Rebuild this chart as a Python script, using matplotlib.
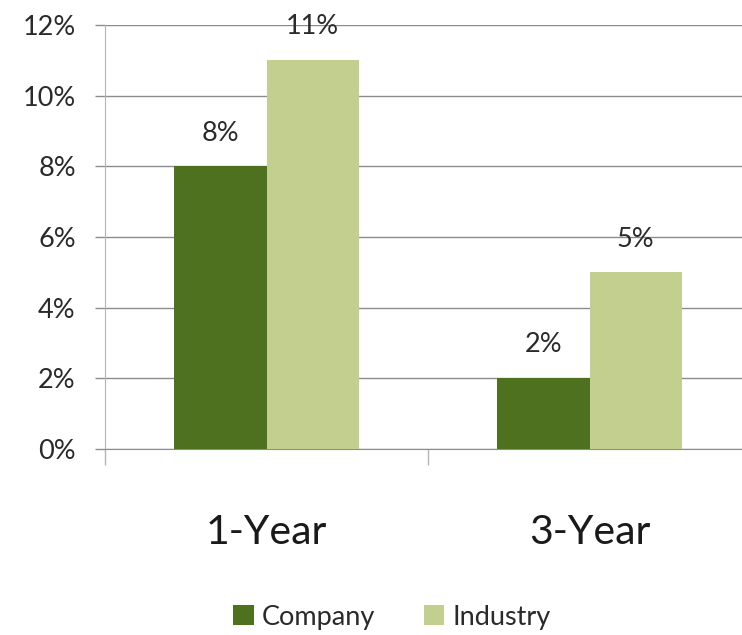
import matplotlib
matplotlib.use("Agg")
import matplotlib.pyplot as plt
import numpy as np

categories = ["1-Year", "3-Year"]
series_names = ["Company", "Industry"]
company = [8, 2]
industry = [11, 5]
y_ticks = [0, 2, 4, 6, 8, 10, 12]

dark_green = "#4E7120"
light_green = "#C3CF8F"
grid_gray = "#8C8C8C"
axis_gray = "#B5B5B5"
text_color = "#2a2a2a"

plt.rcParams["font.family"] = ["Lato", "DejaVu Sans"]

W, H = 742, 635
fig = plt.figure(figsize=(W / 100, H / 100), dpi=100)
ax = fig.add_axes([105 / W, 186 / H, 646 / W, 424 / H])

x = np.arange(len(categories))
bw = 0.285
bars_c = ax.bar(x - bw / 2, company, bw, color=dark_green, label=series_names[0], zorder=3)
bars_i = ax.bar(x + bw / 2, industry, bw, color=light_green, label=series_names[1], zorder=3)

for bars, vals in ((bars_c, company), (bars_i, industry)):
    for b, v in zip(bars, vals):
        ax.annotate(f"{v}%", (b.get_x() + b.get_width() / 2, v),
                    xytext=(0, 15), textcoords="offset points",
                    ha="center", va="bottom", fontsize=19.5, color=text_color)

ax.set_xlim(-0.5, 1.5)
ax.set_ylim(0, 12)
ax.set_yticks(y_ticks)
ax.set_yticklabels([f"{t}%" for t in y_ticks], fontsize=19.5, color=text_color)
ax.yaxis.grid(True, color=grid_gray, linewidth=1, zorder=0)
ax.tick_params(axis="y", length=7, color=grid_gray, width=1, pad=14)

ax.set_xticks(x)
ax.set_xticklabels(categories, fontsize=29.5, color="#1a1a1a")
ax.tick_params(axis="x", which="major", length=0, pad=47)
ax.set_xticks([-0.5, 0.5, 1.5], minor=True)
ax.tick_params(axis="x", which="minor", length=11.5, color=axis_gray, width=1, direction="out")

for side in ("top", "right"):
    ax.spines[side].set_visible(False)
ax.spines["bottom"].set_color(grid_gray)
ax.spines["left"].set_color(axis_gray)

fig.legend(handles=[bars_c, bars_i], labels=series_names, loc="center",
           bbox_to_anchor=(392 / W, 1 - 617 / H), ncol=2, frameon=False,
           fontsize=19.5, handlelength=0.75, handleheight=0.75, handletextpad=0.3,
           columnspacing=1.8, labelcolor=text_color)

fig.savefig("out.png", dpi=100, facecolor="white")
